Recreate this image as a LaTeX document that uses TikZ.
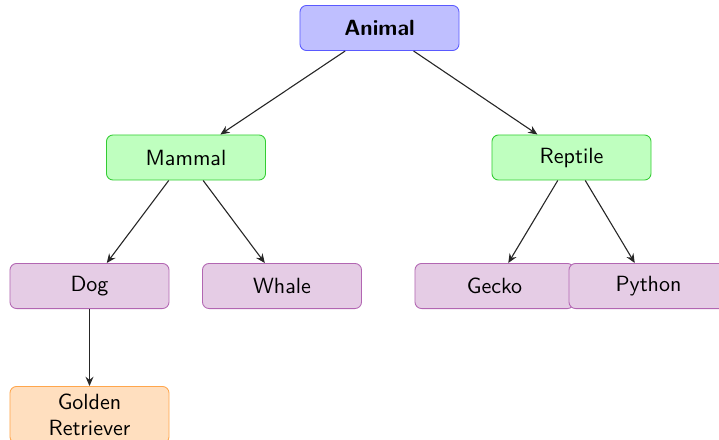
\documentclass[tikz,border=0pt]{standalone}
\usetikzlibrary{arrows.meta}
\begin{document}
\begin{tikzpicture}[x=0.4545pt,y=-0.4545pt,
  box/.style={rectangle, rounded corners=3pt, draw, thin, font=\sffamily,
    minimum width=72.3pt, minimum height=20.5pt, align=center},
  rootbox/.style={box, fill=blue!25, draw=blue!65, font=\sffamily\bfseries},
  classbox/.style={box, fill=green!25, draw=green!75!black!80},
  speciesbox/.style={box, fill=violet!20, draw=violet!60},
  breedbox/.style={box, fill=orange!25, draw=orange!70},
  link/.style={-{Stealth[length=4.2pt, width=3.6pt, inset=1.4pt]}, line width=0.5pt, black!85}]
  \useasboundingbox (0,0) rectangle (719,439);
  \clip (0,0) rectangle (719,439);

  % levels of the taxonomy
  \node[rootbox] (animal) at (379.5,28) {Animal};
  \node[classbox] (mammal) at (186,157.5) {Mammal};
  \node[classbox] (reptile) at (571.5,157.5) {Reptile};
  \node[speciesbox] (dog) at (89.5,286) {Dog};
  \node[speciesbox] (whale) at (282,286) {Whale};
  \node[speciesbox] (gecko) at (494.5,286) {Gecko};
  \node[speciesbox] (python) at (648.5,286) {Python};
  \node[breedbox, anchor=north] (golden) at (89.5,386) {Golden\\Retriever};

  % parent-child links
  \draw[link] (animal) -- (mammal);
  \draw[link] (animal) -- (reptile);
  \draw[link] (mammal) -- (dog);
  \draw[link] (mammal) -- (whale);
  \draw[link] (reptile) -- (gecko);
  \draw[link] (reptile) -- (python);
  \draw[link] (dog) -- (golden);
\end{tikzpicture}
\end{document}
